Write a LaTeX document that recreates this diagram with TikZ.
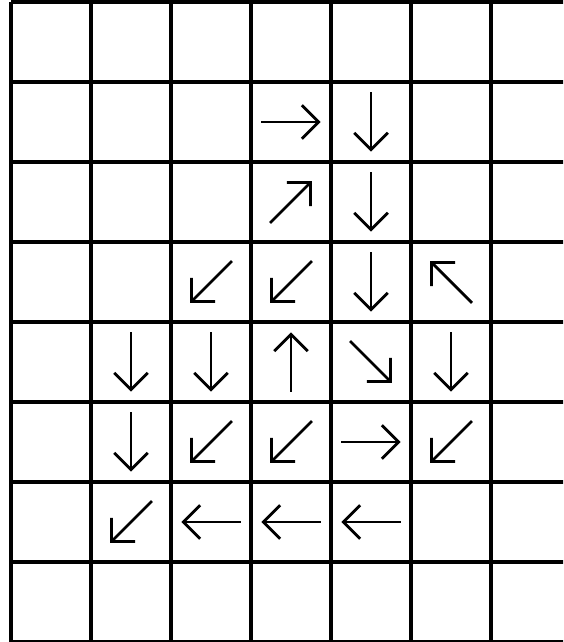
\documentclass[tikz,border=0pt]{standalone}
\usepackage{tikz}
\usetikzlibrary{arrows.meta}
\tikzset{
  cell/.style={draw=black,line width=1.1pt},
  arr/.style={draw=black,line width=1pt,-{Straight Barb[length=2.1mm,width=4.2mm]}},
}

\begin{document}
\begin{tikzpicture}[scale=1]
\useasboundingbox (-0.1375,0) rectangle (6.9,8.025);
\clip (-0.1375,0) rectangle (6.9,8.025);
\draw[cell] (0,0) grid (7,8);
% cell centres, r = row from top, c = column from left
\coordinate (r1c3) at (3.5,6.5);
\coordinate (r1c4) at (4.5,6.5);
\coordinate (r2c3) at (3.5,5.5);
\coordinate (r2c4) at (4.5,5.5);
\coordinate (r3c2) at (2.5,4.5);
\coordinate (r3c3) at (3.5,4.5);
\coordinate (r3c4) at (4.5,4.5);
\coordinate (r3c5) at (5.5,4.5);
\coordinate (r4c1) at (1.5,3.5);
\coordinate (r4c2) at (2.5,3.5);
\coordinate (r4c3) at (3.5,3.5);
\coordinate (r4c4) at (4.5,3.5);
\coordinate (r4c5) at (5.5,3.5);
\coordinate (r5c1) at (1.5,2.5);
\coordinate (r5c2) at (2.5,2.5);
\coordinate (r5c3) at (3.5,2.5);
\coordinate (r5c4) at (4.5,2.5);
\coordinate (r5c5) at (5.5,2.5);
\coordinate (r6c1) at (1.5,1.5);
\coordinate (r6c2) at (2.5,1.5);
\coordinate (r6c3) at (3.5,1.5);
\coordinate (r6c4) at (4.5,1.5);
% arrows
\draw[arr,shift={(r1c3)}] (180:0.37) -- (0:0.37);
\draw[arr,shift={(r1c4)}] (90:0.37) -- (-90:0.37);
\draw[arr,shift={(r2c3)}] (225:0.37) -- (45:0.37);
\draw[arr,shift={(r2c4)}] (90:0.37) -- (-90:0.37);
\draw[arr,shift={(r3c2)}] (45:0.37) -- (225:0.37);
\draw[arr,shift={(r3c3)}] (45:0.37) -- (225:0.37);
\draw[arr,shift={(r3c4)}] (90:0.37) -- (-90:0.37);
\draw[arr,shift={(r3c5)}] (-45:0.37) -- (135:0.37);
\draw[arr,shift={(r4c1)}] (90:0.37) -- (-90:0.37);
\draw[arr,shift={(r4c2)}] (90:0.37) -- (-90:0.37);
\draw[arr,shift={(r4c3)}] (-90:0.37) -- (90:0.37);
\draw[arr,shift={(r4c4)}] (135:0.37) -- (-45:0.37);
\draw[arr,shift={(r4c5)}] (90:0.37) -- (-90:0.37);
\draw[arr,shift={(r5c1)}] (90:0.37) -- (-90:0.37);
\draw[arr,shift={(r5c2)}] (45:0.37) -- (225:0.37);
\draw[arr,shift={(r5c3)}] (45:0.37) -- (225:0.37);
\draw[arr,shift={(r5c4)}] (180:0.37) -- (0:0.37);
\draw[arr,shift={(r5c5)}] (45:0.37) -- (225:0.37);
\draw[arr,shift={(r6c1)}] (45:0.37) -- (225:0.37);
\draw[arr,shift={(r6c2)}] (0:0.37) -- (180:0.37);
\draw[arr,shift={(r6c3)}] (0:0.37) -- (180:0.37);
\draw[arr,shift={(r6c4)}] (0:0.37) -- (180:0.37);
\end{tikzpicture}
\end{document}
